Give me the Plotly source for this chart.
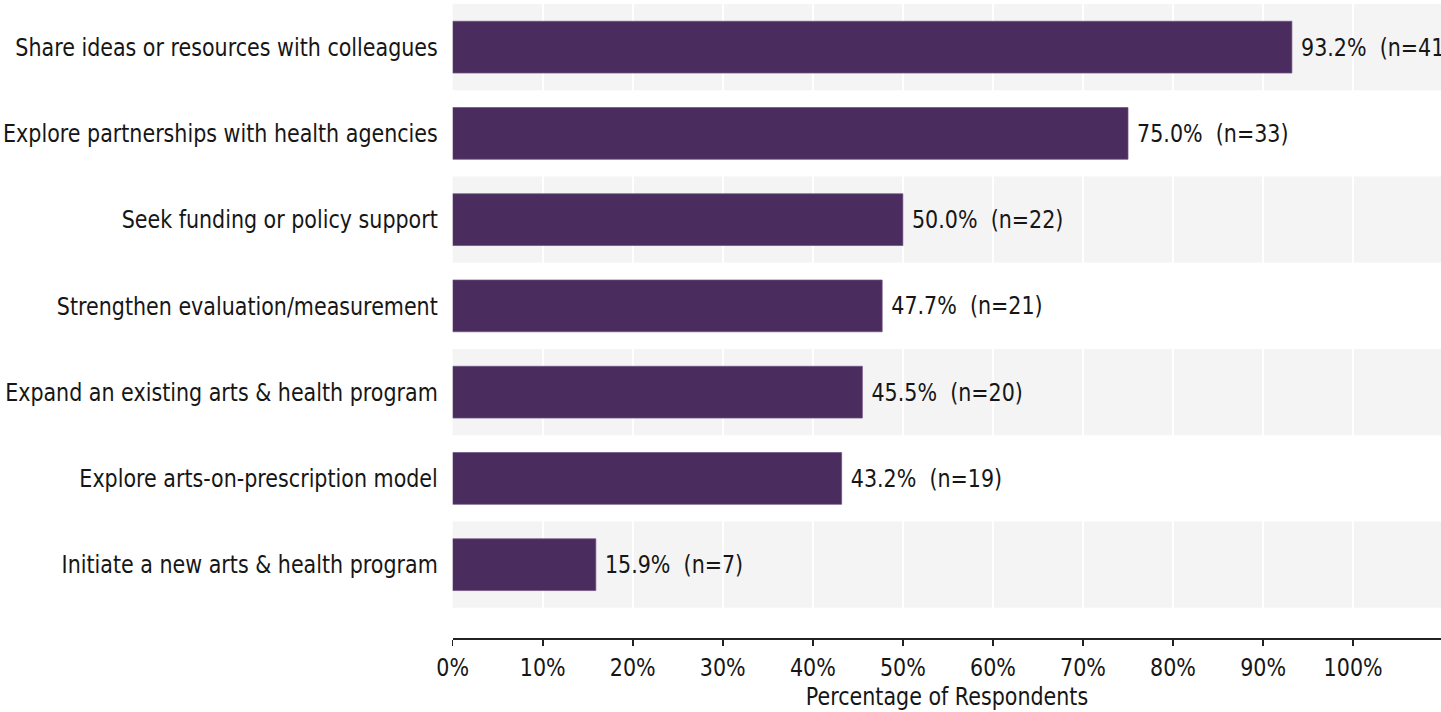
import plotly.graph_objects as go

# Survey responses: planned next steps
categories = [
    "Share ideas or resources with colleagues",
    "Explore partnerships with health agencies",
    "Seek funding or policy support",
    "Strengthen evaluation/measurement",
    "Expand an existing arts & health program",
    "Explore arts-on-prescription model",
    "Initiate a new arts & health program",
]
percentages = [93.2, 75.0, 50.0, 47.7, 45.5, 43.2, 15.9]
counts = [41, 33, 22, 21, 20, 19, 7]
x_ticks = [0, 10, 20, 30, 40, 50, 60, 70, 80, 90, 100]
x_tick_labels = [f"{t}%" for t in x_ticks]

FONT = "DejaVu Sans, sans-serif"
FONT_SIZE = 25
TEXT_COLOR = "#161616"
BAR_COLOR = "#4b2c5e"
BAND_COLOR = "#f4f4f4"

# The page is drawn wide and then narrowed horizontally, which gives the
# compact, tall lettering of the final chart.
SQUEEZE = 0.826
PAGE_W, PAGE_H = 1441, 712
W = PAGE_W / SQUEEZE

labels = [f"\u00a0{p:.1f}%\u00a0\u00a0(n={n})" for p, n in zip(percentages, counts)]

fig = go.Figure(
    go.Bar(
        x=percentages,
        y=categories,
        orientation="h",
        width=0.6,
        marker=dict(color=BAR_COLOR, line=dict(color="#6e5283", width=0.8)),
        text=labels,
        textposition="outside",
        textfont=dict(family=FONT, size=FONT_SIZE, color=TEXT_COLOR),
        cliponaxis=False,
        hoverinfo="skip",
    )
)

# alternating shaded row bands
shapes = []
for i, cat in enumerate(categories):
    if i % 2 == 0:
        shapes.append(
            dict(
                type="rect",
                xref="paper",
                yref="y",
                x0=0,
                x1=1,
                y0=i - 0.5,
                y1=i + 0.5,
                fillcolor=BAND_COLOR,
                line=dict(width=0),
                layer="below",
            )
        )

fig.update_layout(
    width=W,
    height=PAGE_H,
    margin=dict(l=453 / SQUEEZE, r=0, t=4, b=74),
    paper_bgcolor="white",
    plot_bgcolor="white",
    shapes=shapes,
    showlegend=False,
    font=dict(family=FONT, size=FONT_SIZE, color=TEXT_COLOR),
)

fig.update_xaxes(
    range=[0, 109.8],
    tickvals=x_ticks,
    ticktext=x_tick_labels,
    showgrid=True,
    gridcolor="white",
    gridwidth=2.4,
    zeroline=False,
    showline=True,
    linecolor="#222222",
    linewidth=1.5,
    ticks="outside",
    ticklen=6,
    tickwidth=1.8,
    tickcolor="#222222",
    tickfont=dict(family=FONT, size=FONT_SIZE, color=TEXT_COLOR),
    title=dict(text="Percentage of Respondents",
               font=dict(family=FONT, size=FONT_SIZE, color=TEXT_COLOR), standoff=5),
)

fig.update_yaxes(
    categoryorder="array",
    categoryarray=categories,
    range=[6.85, -0.5],
    showgrid=False,
    zeroline=False,
    showline=False,
    ticks="",
    ticklabelstandoff=17,
    tickfont=dict(family=FONT, size=FONT_SIZE, color=TEXT_COLOR),
)

narrow_js = f"""
var gd = document.getElementById('{{plot_id}}');
document.body.style.margin = '0';
document.body.style.overflow = 'hidden';
gd.style.transformOrigin = '0 0';
gd.style.transform = 'scaleX({SQUEEZE})';
"""

fig.write_html("out.html", post_script=narrow_js)
